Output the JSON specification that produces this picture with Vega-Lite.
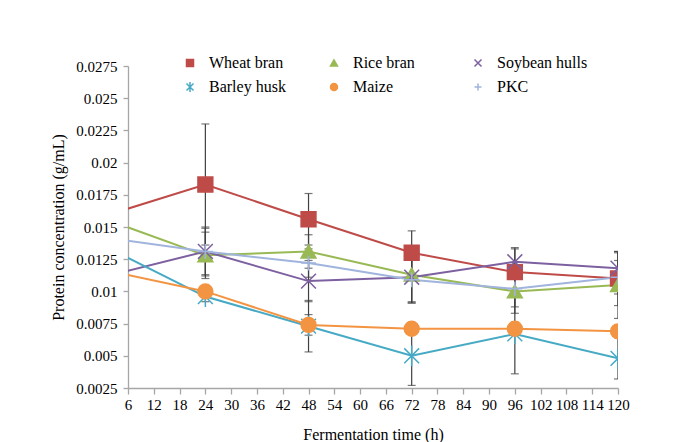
{
  "$schema": "https://vega.github.io/schema/vega-lite/v6.json",
  "width": 490,
  "height": 322,
  "autosize": "none",
  "padding": {"left": 128, "top": 66, "right": 60, "bottom": 54},
  "background": "white",
  "config": {
    "font": "Liberation Serif",
    "view": {"stroke": null},
    "legend": {"labelFont": "Liberation Serif", "labelFontSize": 16, "labelColor": "#000000"},
    "axis": {
      "labelFont": "Liberation Serif",
      "titleFont": "Liberation Serif",
      "labelColor": "#000000",
      "titleColor": "#000000",
      "titleFontWeight": "normal",
      "domainColor": "#a6a6a6",
      "tickColor": "#a6a6a6",
      "domainWidth": 1.3,
      "tickWidth": 1.3,
      "grid": false
    }
  },
  "data": {
    "values": [
      {"series": "Wheat bran", "time": 0, "protein": 0.0158, "sd": null},
      {"series": "Wheat bran", "time": 24, "protein": 0.0183, "sd": 0.0047},
      {"series": "Wheat bran", "time": 48, "protein": 0.0156, "sd": 0.0020},
      {"series": "Wheat bran", "time": 72, "protein": 0.0130, "sd": 0.0017},
      {"series": "Wheat bran", "time": 96, "protein": 0.0115, "sd": 0.0018},
      {"series": "Wheat bran", "time": 120, "protein": 0.0110, "sd": 0.0021},
      {"series": "Rice bran", "time": 0, "protein": 0.0157, "sd": null},
      {"series": "Rice bran", "time": 24, "protein": 0.0128, "sd": 0.0018},
      {"series": "Rice bran", "time": 48, "protein": 0.0131, "sd": 0.0013},
      {"series": "Rice bran", "time": 72, "protein": 0.0113, "sd": 0.0021},
      {"series": "Rice bran", "time": 96, "protein": 0.0100, "sd": 0.0017},
      {"series": "Rice bran", "time": 120, "protein": 0.0105, "sd": 0.0026},
      {"series": "Soybean hulls", "time": 0, "protein": 0.0111, "sd": null},
      {"series": "Soybean hulls", "time": 24, "protein": 0.0131, "sd": 0.0018},
      {"series": "Soybean hulls", "time": 48, "protein": 0.0108, "sd": 0.0016},
      {"series": "Soybean hulls", "time": 72, "protein": 0.0111, "sd": 0.0020},
      {"series": "Soybean hulls", "time": 96, "protein": 0.0123, "sd": 0.0011},
      {"series": "Soybean hulls", "time": 120, "protein": 0.0118, "sd": 0.0012},
      {"series": "Barley husk", "time": 0, "protein": 0.0136, "sd": null},
      {"series": "Barley husk", "time": 24, "protein": 0.0096, "sd": 0.0004},
      {"series": "Barley husk", "time": 48, "protein": 0.0073, "sd": 0.0020},
      {"series": "Barley husk", "time": 72, "protein": 0.0050, "sd": 0.0023},
      {"series": "Barley husk", "time": 96, "protein": 0.0067, "sd": 0.0031},
      {"series": "Barley husk", "time": 120, "protein": 0.0048, "sd": 0.0016},
      {"series": "Maize", "time": 0, "protein": 0.0117, "sd": null},
      {"series": "Maize", "time": 24, "protein": 0.0100, "sd": 0.0004},
      {"series": "Maize", "time": 48, "protein": 0.0074, "sd": 0.0008},
      {"series": "Maize", "time": 72, "protein": 0.0071, "sd": 0.0004},
      {"series": "Maize", "time": 96, "protein": 0.0071, "sd": 0.0005},
      {"series": "Maize", "time": 120, "protein": 0.0069, "sd": 0.0003},
      {"series": "PKC", "time": 0, "protein": 0.0142, "sd": null},
      {"series": "PKC", "time": 24, "protein": 0.0131, "sd": 0.0019},
      {"series": "PKC", "time": 48, "protein": 0.0122, "sd": 0.0011},
      {"series": "PKC", "time": 72, "protein": 0.0109, "sd": 0.0018},
      {"series": "PKC", "time": 96, "protein": 0.0102, "sd": 0.0014},
      {"series": "PKC", "time": 120, "protein": 0.0111, "sd": 0.0013}
    ]
  },
  "encoding": {
    "x": {
      "field": "time",
      "type": "quantitative",
      "scale": {"domain": [6, 120], "nice": false, "zero": false},
      "axis": {
        "values": [6, 12, 18, 24, 30, 36, 42, 48, 54, 60, 66, 72, 78, 84, 90, 96, 102, 108, 114, 120],
        "title": "Fermentation time (h)",
        "titleFontSize": 16,
        "titlePadding": 14,
        "labelFontSize": 15,
        "labelPadding": 3,
        "tickSize": 6,
        "labelOverlap": false,
        "labelFlush": false
      }
    },
    "y": {
      "field": "protein",
      "type": "quantitative",
      "scale": {"domain": [0.0025, 0.0275], "nice": false, "zero": false},
      "axis": {
        "values": [0.0025, 0.005, 0.0075, 0.01, 0.0125, 0.015, 0.0175, 0.02, 0.0225, 0.025, 0.0275],
        "format": ".4~f",
        "title": "Protein concentration (g/mL)",
        "titleFontSize": 16,
        "titlePadding": 9,
        "labelFontSize": 15,
        "labelPadding": 6,
        "tickSize": 5,
        "labelOverlap": false
      }
    }
  },
  "layer": [
    {
      "mark": {"type": "line", "strokeWidth": 2, "clip": true},
      "encoding": {
        "color": {
          "field": "series",
          "type": "nominal",
          "scale": {
            "domain": ["Wheat bran", "Rice bran", "Soybean hulls", "Barley husk", "Maize", "PKC"],
            "range": ["#BE4B48", "#98B954", "#7D60A0", "#46AAC5", "#F39442", "#A0B4DD"]
          },
          "legend": {
            "orient": "none",
            "legendX": 54,
            "legendY": -11,
            "direction": "horizontal",
            "columns": 3,
            "gridAlign": "all",
            "columnPadding": 26,
            "rowPadding": 8,
            "padding": 0,
            "title": null,
            "labelFont": "Liberation Serif",
            "labelFontSize": 16,
            "labelColor": "#000000",
            "labelOffset": 11,
            "symbolSize": 49
          }
        }
      }
    },
    {
      "transform": [{"filter": "isValid(datum.sd)"}],
      "mark": {"type": "errorbar", "ticks": {"size": 8}, "thickness": 1.2, "color": "#404040", "clip": true},
      "encoding": {
        "y": {"field": "protein", "type": "quantitative"},
        "yError": {"field": "sd"}
      }
    },
    {
      "mark": {"type": "point", "filled": true, "size": 220, "strokeWidth": 1.5, "opacity": 1, "clip": true},
      "encoding": {
        "color": {"field": "series", "type": "nominal"},
        "stroke": {
          "field": "series",
          "type": "nominal",
          "scale": {
            "domain": ["Wheat bran", "Rice bran", "Soybean hulls", "Barley husk", "Maize", "PKC"],
            "range": ["#BE4B48", "#98B954", "#7D60A0", "#46AAC5", "#F39442", "#A0B4DD"]
          },
          "legend": null
        },
        "shape": {
          "field": "series",
          "type": "nominal",
          "scale": {
            "domain": ["Wheat bran", "Rice bran", "Soybean hulls", "Barley husk", "Maize", "PKC"],
            "range": ["square", "triangle-up", "M-1,-1L1,1M-1,1L1,-1", "M-1,-1L1,1M-1,1L1,-1M0,-1.4L0,1.4", "circle", "M-1,0L1,0M0,-1L0,1"]
          },
          "legend": null
        }
      }
    }
  ]
}
